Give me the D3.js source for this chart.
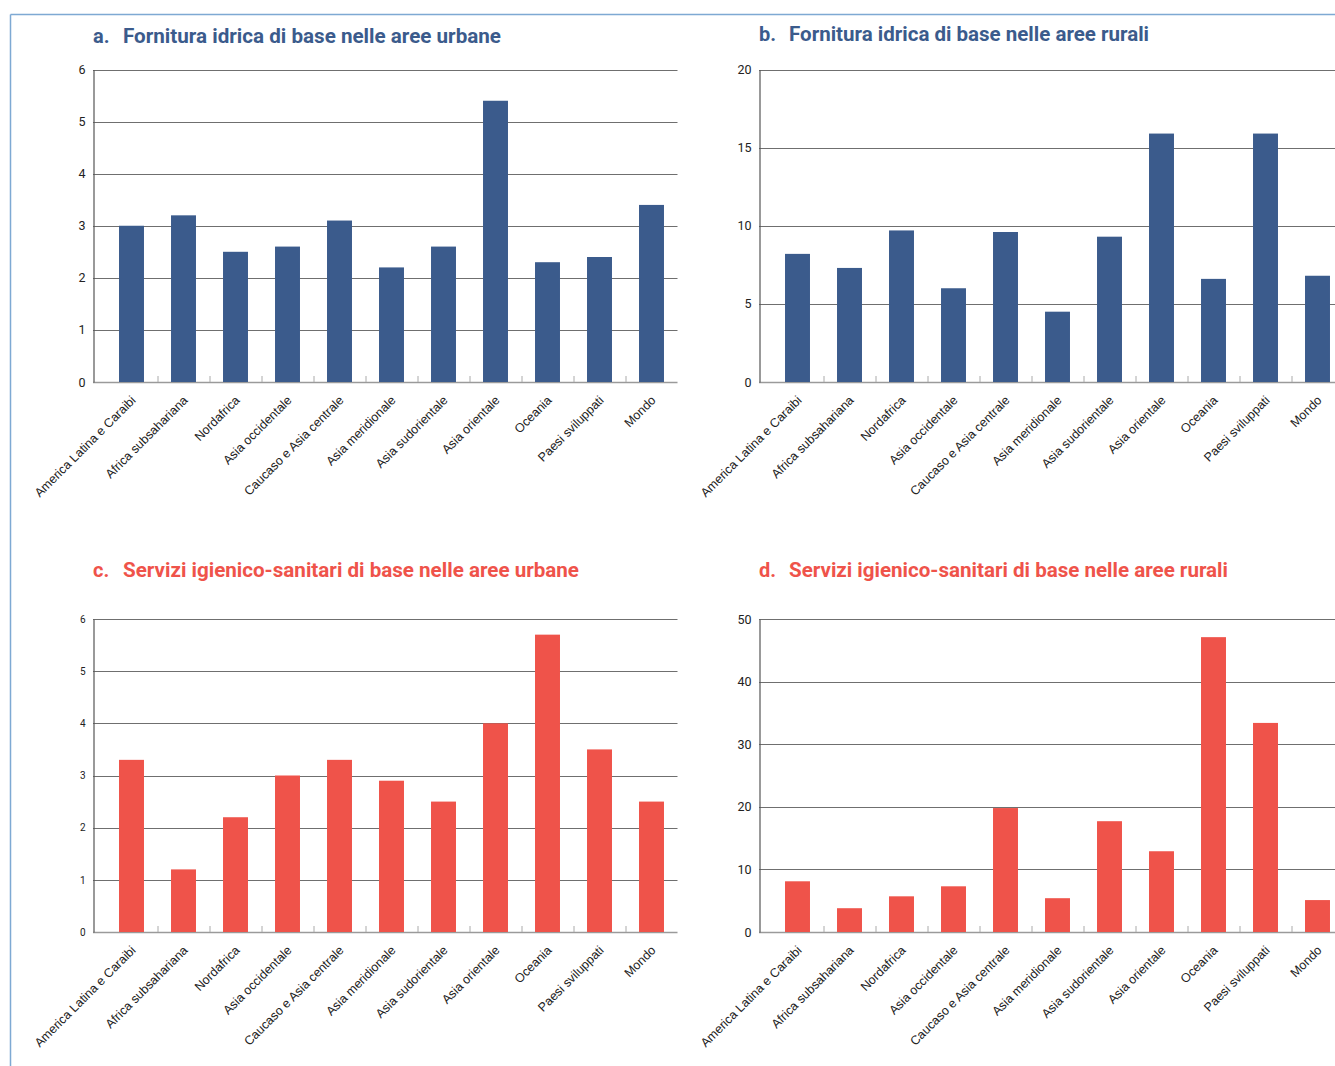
<!DOCTYPE html>
<html><head><meta charset="utf-8">
<script src="https://cdn.jsdelivr.net/npm/d3@7"></script>
<style>
html,body{margin:0;padding:0;background:#fff;}
svg{display:block;}
</style></head>
<body>
<svg id="chart" width="1335" height="1066"></svg>
<script>
const categories = ["America Latina e Caraibi","Africa subsahariana","Nordafrica","Asia occidentale","Caucaso e Asia centrale","Asia meridionale","Asia sudorientale","Asia orientale","Oceania","Paesi sviluppati","Mondo"];
const waterUrban = [3.0,3.2,2.5,2.6,3.1,2.2,2.6,5.4,2.3,2.4,3.4];
const waterRural = [8.2,7.3,9.7,6.0,9.6,4.5,9.3,15.9,6.6,15.9,6.8];
const sanUrban = [3.3,1.2,2.2,3.0,3.3,2.9,2.5,4.0,5.7,3.5,2.5];
const sanRural = [8.1,3.8,5.7,7.3,19.8,5.4,17.7,12.9,47.1,33.4,5.1];
const ticksA = [0,1,2,3,4,5,6];
const ticksB = [0,5,10,15,20];
const ticksC = [0,1,2,3,4,5,6];
const ticksD = [0,10,20,30,40,50];
const titles = [
  ["a.","Fornitura idrica di base nelle aree urbane"],
  ["b.","Fornitura idrica di base nelle aree rurali"],
  ["c.","Servizi igienico-sanitari di base nelle aree urbane"],
  ["d.","Servizi igienico-sanitari di base nelle aree rurali"]
];

const BLUE = "#3b5b8c", RED = "#ef534a";
const svg = d3.select("#chart");

// frame
svg.append("line").attr("x1",10.5).attr("x2",1335).attr("y1",14.5).attr("y2",14.5)
  .attr("stroke","#7ea9d3").attr("stroke-width",1.5);
svg.append("line").attr("x1",10.5).attr("x2",10.5).attr("y1",14.5).attr("y2",1066)
  .attr("stroke","#7ea9d3").attr("stroke-width",1.5);

function panel(o){
  const g = svg.append("g");
  const x = d3.scaleBand().domain(categories).range([o.ax+12.5, o.ax+12.5+52*categories.length]).paddingInner(0.52).paddingOuter(0.26);
  const y = d3.scaleLinear().domain([0, d3.max(o.ticks)]).range([o.y0, o.y1]);
  // title
  const t = g.append("text").attr("y", o.ty).attr("font-family","Roboto, sans-serif")
    .attr("font-weight","bold").attr("font-size",20).attr("fill",o.color);
  t.append("tspan").attr("x",o.ax).text(o.title[0]);
  t.append("tspan").attr("x",o.ax+30).attr("textLength",o.tlen).attr("lengthAdjust","spacingAndGlyphs").text(o.title[1]);
  // gridlines
  const right = Math.min(o.ax+12.5+52*categories.length, 1335);
  g.append("g").selectAll("line").data(o.ticks).join("line")
    .attr("x1",o.ax).attr("x2",right)
    .attr("y1",d=>Math.round(y(d))+0.5).attr("y2",d=>Math.round(y(d))+0.5)
    .attr("stroke",d=>d===0?"#9a9a9a":"#6f6f6f").attr("stroke-width",d=>d===0?1.5:1);
  // bars
  g.append("g").selectAll("rect").data(o.values).join("rect")
    .attr("x",(d,i)=>x(categories[i])).attr("width",x.bandwidth())
    .attr("y",d=>y(d)).attr("height",d=>y(0)-y(d)).attr("fill",o.color);
  // y axis
  const ya = d3.axisLeft(y).tickValues(o.ticks).tickFormat(d3.format("d")).tickSize(0).tickPadding(8);
  const yg = g.append("g").attr("transform",`translate(${o.ax+0.5},0)`).call(ya);
  yg.select(".domain").attr("stroke","#555").attr("stroke-width",1.2);
  yg.selectAll("text").attr("font-family","Roboto, sans-serif").attr("font-size",o.yfs).attr("fill","#222");
  // x ticks (upward, between bands)
  const bounds = d3.range(1, categories.length).map(k=>o.ax+12.5+52*k);
  g.append("g").selectAll("line").data(bounds).join("line")
    .attr("x1",d=>d+0.5).attr("x2",d=>d+0.5).attr("y1",o.y0).attr("y2",o.y0-6)
    .attr("stroke","#aaa").attr("stroke-width",1);
  // x labels
  g.append("g").selectAll("text").data(categories).join("text")
    .attr("transform",d=>`translate(${x(d)+x.bandwidth()/2+5},${o.y0+19}) rotate(-45)`)
    .attr("text-anchor","end").attr("font-family","'Liberation Sans', Arial, sans-serif")
    .attr("font-size",12.5).attr("fill","#222").text(d=>d);
}

panel({ax:93, y0:382, y1:69.5, ty:43, ticks:ticksA, values:waterUrban, color:BLUE, title:titles[0], tlen:378, yfs:12.5});
panel({ax:759, y0:382, y1:69.5, ty:41, ticks:ticksB, values:waterRural, color:BLUE, title:titles[1], tlen:360, yfs:12.5});
panel({ax:93, y0:932, y1:619, ty:577, ticks:ticksC, values:sanUrban, color:RED, title:titles[2], tlen:456, yfs:10});
panel({ax:759, y0:932, y1:619, ty:577, ticks:ticksD, values:sanRural, color:RED, title:titles[3], tlen:439, yfs:12.5});
</script>
</body></html>
